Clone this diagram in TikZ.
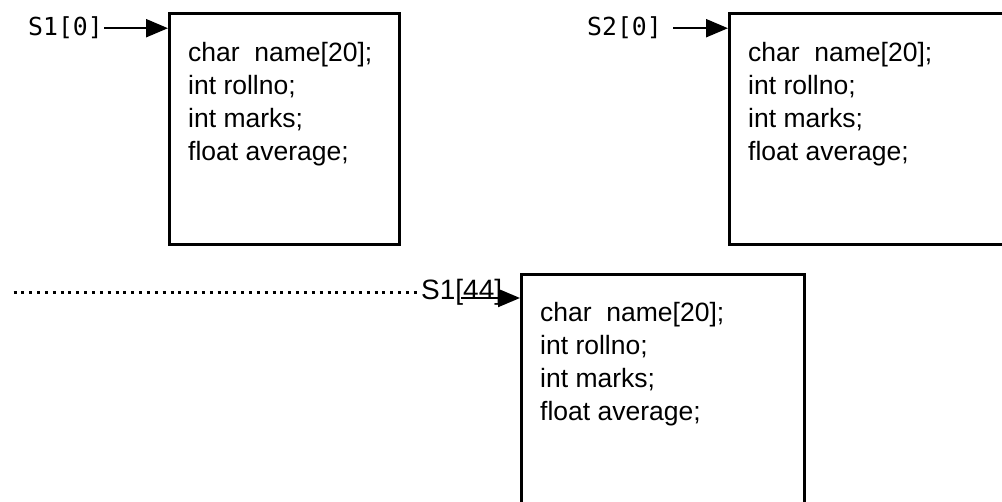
\documentclass[tikz,border=0pt]{standalone}
\usepackage{fontspec}
\setmainfont{Liberation Sans}
\newfontfamily\monofont{DejaVu Sans Mono}
\usetikzlibrary{arrows.meta}
\begin{document}
\begin{tikzpicture}[x=1pt,y=-1pt,
  membox/.style={draw, line width=2.6pt, rectangle, inner sep=0pt, anchor=north west},
  field/.style={anchor=base west, inner sep=0pt, font=\fontsize{26.5}{33}\selectfont},
  ptrlabel/.style={anchor=base west, inner sep=0pt, font=\monofont\fontsize{24.8}{30}\selectfont},
  sanslabel/.style={anchor=base west, inner sep=0pt, font=\fontsize{28}{34}\selectfont},
  ptr/.style={line width=2.2pt, -{Triangle[length=22pt,width=18pt]}},
  dotrow/.style={line width=3pt, dash pattern=on 3pt off 4.85pt},
]
\useasboundingbox (0,0) rectangle (1002,502);
\clip (0,0) rectangle (1002,502);

% boxes
\node[membox, minimum width=230pt, minimum height=231pt] (b1) at (168,12) {};
\node[membox, minimum width=320pt, minimum height=231pt] (b2) at (728,12) {};
\node[membox, minimum width=283pt, minimum height=280pt] (b3) at (520,273) {};

% fields of box 1
\node[field] (b1a) at (188,62)  {char\ \ name[20];};
\node[field] (b1b) at (188,95)  {int rollno;};
\node[field] (b1c) at (188,128) {int marks;};
\node[field] (b1d) at (188,161) {float average;};

% fields of box 2
\node[field] (b2a) at (748,62)  {char\ \ name[20];};
\node[field] (b2b) at (748,95)  {int rollno;};
\node[field] (b2c) at (748,128) {int marks;};
\node[field] (b2d) at (748,161) {float average;};

% fields of box 3
\node[field] (b3a) at (540,322) {char\ \ name[20];};
\node[field] (b3b) at (540,355) {int rollno;};
\node[field] (b3c) at (540,388) {int marks;};
\node[field] (b3d) at (540,421) {float average;};

% pointer labels
\node[ptrlabel] (l1) at (28,36)  {S1[0]};
\node[ptrlabel] (l2) at (587,36) {S2[0]};
\node[sanslabel] (l3) at (421,300) {S1[44]};

% arrows
\draw[ptr] ([xshift=1pt]l1.east) -- (l1.east -| b1.west);
\draw[ptr] ([xshift=11pt]l2.east) -- (l2.east -| b2.west);
\coordinate (a3) at (461,298);
\draw[ptr] (a3) -- (a3 -| b3.west);

% dotted lead-in
\coordinate (d0) at (13.5,293);
\draw[dotrow] (d0) -- (d0 -| l3.west);
\end{tikzpicture}
\end{document}
